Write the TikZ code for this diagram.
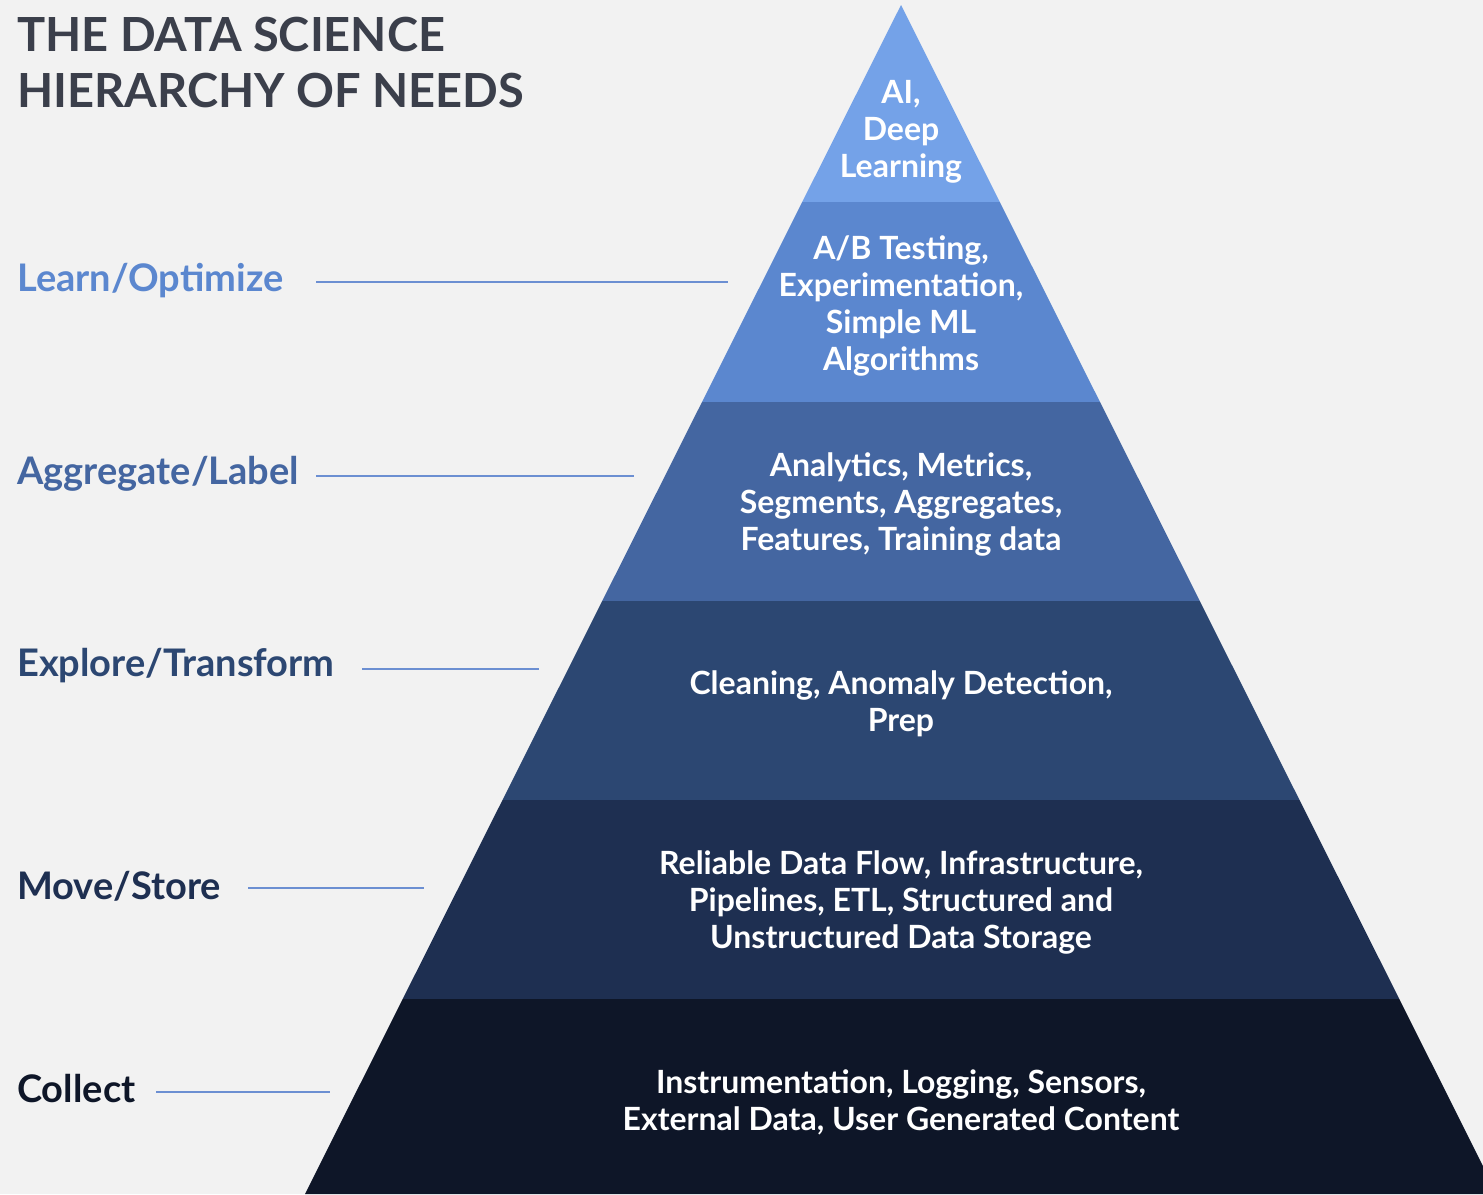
\documentclass[tikz,border=0pt]{standalone}
\usepackage{fontspec}
\setmainfont{Lato}
\definecolor{bg}{HTML}{F2F2F2}
\definecolor{titlec}{HTML}{3B3F4B}
\definecolor{lA}{HTML}{74A2E8}
\definecolor{lB}{HTML}{5B87CF}
\definecolor{lC}{HTML}{4466A1}
\definecolor{lD}{HTML}{2C4772}
\definecolor{lE}{HTML}{1E2F51}
\definecolor{lF}{HTML}{0E1628}
\definecolor{linec}{HTML}{6C8FD2}
\tikzset{
  layertext/.style={text=white, align=center, font=\fontsize{32}{37}\selectfont\bfseries, inner sep=0pt},
  sidelabel/.style={anchor=west, font=\fontsize{38}{44}\selectfont\bfseries, inner sep=0pt},
  guide/.style={draw=linec, line width=2pt},
  titletext/.style={anchor=base west, text=titlec, font=\fontsize{47}{56}\selectfont\bfseries, inner sep=0pt}
}
\begin{document}
\begin{tikzpicture}[x=1pt,y=-1pt]
\useasboundingbox (0,0) rectangle (1483,1194);
\fill[bg] (0,0) rectangle (1483,1194);
\begin{scope}
\clip (0,0) rectangle (1483,1194);
\fill[lA] (901,5) -- (999.8,202) -- (802.2,202) -- cycle;
\fill[lB] (802.2,202) -- (999.8,202) -- (1100,402) -- (702,402) -- cycle;
\fill[lC] (702,402) -- (1100,402) -- (1199.8,601) -- (602.2,601) -- cycle;
\fill[lD] (602.2,601) -- (1199.8,601) -- (1299.5,800) -- (502.5,800) -- cycle;
\fill[lE] (502.5,800) -- (1299.5,800) -- (1399.3,999) -- (402.7,999) -- cycle;
\fill[lF] (402.7,999) -- (1399.3,999) -- (1497,1194) -- (305,1194) -- cycle;
\end{scope}
% title
\node[titletext] (t1) at (17,51) {THE DATA SCIENCE};
\node[titletext] (t2) at (17,107) {HIERARCHY OF NEEDS};
% layer texts
\node[layertext] (ta) at (901,132) {AI,\\Deep\\Learning};
\node[layertext] (tb) at (901,306) {A/B Testing,\\Experimentation,\\Simple ML\\Algorithms};
\node[layertext] (tc) at (901,504) {Analytics, Metrics,\\Segments, Aggregates,\\Features, Training data};
\node[layertext] (td) at (901,704) {Cleaning, Anomaly Detection,\\Prep};
\node[layertext] (te) at (901,902) {Reliable Data Flow, Infrastructure,\\Pipelines, ETL, Structured and\\Unstructured Data Storage};
\node[layertext] (tf) at (901,1102) {Instrumentation, Logging, Sensors,\\External Data, User Generated Content};
% side labels
\node[sidelabel, text=lB] (sb) at (17,281) {Learn/Optimize};
\node[sidelabel, text=lC] (sc) at (17,474) {Aggregate/Label};
\node[sidelabel, text=lD] (sd) at (17,666) {Explore/Transform};
\node[sidelabel, text=lE] (se) at (17,886) {Move/Store};
\node[sidelabel, text=lF] (sf) at (17,1089) {Collect};
% guide lines
\coordinate (gb1) at (316,282); \coordinate (gb2) at (728,282);
\coordinate (gc1) at (316,476); \coordinate (gc2) at (634,476);
\coordinate (gd1) at (362,669); \coordinate (gd2) at (539,669);
\coordinate (ge1) at (248,888); \coordinate (ge2) at (424,888);
\coordinate (gf1) at (156,1092); \coordinate (gf2) at (330,1092);
\draw[guide] (gb1) -- (gb2);
\draw[guide] (gc1) -- (gc2);
\draw[guide] (gd1) -- (gd2);
\draw[guide] (ge1) -- (ge2);
\draw[guide] (gf1) -- (gf2);
\end{tikzpicture}
\end{document}
